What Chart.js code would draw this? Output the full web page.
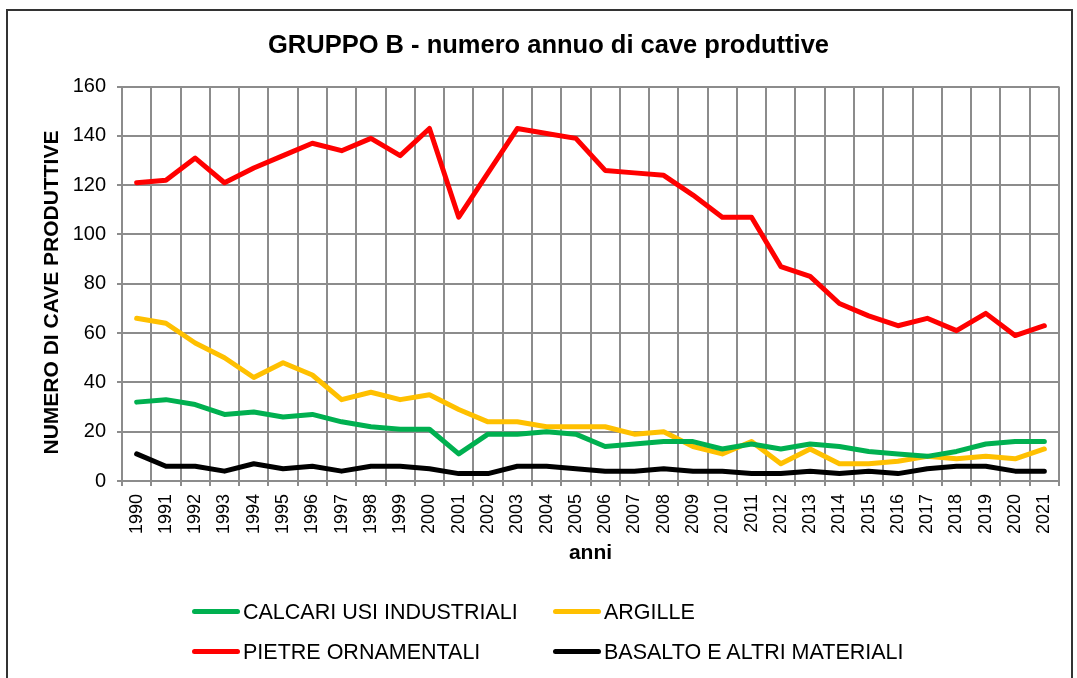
<!DOCTYPE html>
<html>
<head>
<meta charset="utf-8">
<script src="https://cdn.jsdelivr.net/npm/chart.js@4/dist/chart.umd.min.js"></script>
<style>
  html, body { margin: 0; padding: 0; background: #fff; }
  body { width: 1077px; height: 678px; position: relative; overflow: hidden; font-family: "Liberation Sans", Arial, sans-serif; }
  #frame { position: absolute; left: 6px; top: 9px; width: 1063px; height: 700px; border: 2px solid #333; border-bottom: none; }
  #wrap { position: absolute; left: 0; top: 0; width: 1077px; height: 678px; }
  .legend { position: absolute; font-size: 21.5px; color: #000; white-space: nowrap; }
  .legend .sw { display: inline-block; width: 48px; height: 5px; border-radius: 3px; vertical-align: middle; margin-right: 3px; position: relative; top: -2px; }
</style>
</head>
<body>
<div id="frame"></div>
<div id="wrap"><canvas id="grafico" width="1077" height="678"></canvas></div>
<div id="legenda"></div>
<script>
// dati
const anni = ['1990','1991','1992','1993','1994','1995','1996','1997','1998','1999','2000','2001','2002','2003','2004','2005',
  '2006','2007','2008','2009','2010','2011','2012','2013','2014','2015','2016','2017','2018','2019','2020','2021'];

const calcari = [32,33,31,27,28,26,27,24,22,21,21,11,19,19,20,19,14,15,16,16,13,15,13,15,14,12,11,10,12,15,16,16];
const argille = [66,64,56,50,42,48,43,33,36,33,35,29,24,24,22,22,22,19,20,14,11,16,7,13,7,7,8,10,9,10,9,13];
const pietre = [121,122,131,121,127,132,137,134,139,132,143,107,125,143,141,139,126,125,124,116,107,107,87,83,72,67,63,66,61,68,59,63];
const basalto = [11,6,6,4,7,5,6,4,6,6,5,3,3,6,6,5,4,4,5,4,4,3,3,4,3,4,3,5,6,6,4,4];

const serie = [
  { label: 'CALCARI USI INDUSTRIALI', data: calcari, color: '#00b050' },
  { label: 'ARGILLE', data: argille, color: '#ffc000' },
  { label: 'PIETRE ORNAMENTALI', data: pietre, color: '#ff0000' },
  { label: 'BASALTO E ALTRI MATERIALI', data: basalto, color: '#000000' }
];

const FONT = '"Liberation Sans", Arial, sans-serif';
const GRIGIO = '#8c8c8c';

// legenda html su due righe
(function () {
  const pos = [[192, 613], [553, 613], [192, 653], [553, 653]];
  const cont = document.getElementById('legenda');
  serie.forEach((s, i) => {
    const d = document.createElement('div');
    d.className = 'legend';
    d.style.left = pos[i][0] + 'px';
    d.style.top = (pos[i][1] - 13) + 'px';
    d.innerHTML = `<span class="sw" style="background:${s.color}"></span>${s.label}`;
    cont.appendChild(d);
  });
})();

new Chart(document.getElementById('grafico').getContext('2d'), {
  type: 'line',
  data: {
    labels: anni,
    datasets: serie.map(s => ({
      label: s.label,
      data: s.data,
      borderColor: s.color,
      backgroundColor: s.color,
      borderWidth: 5,
      pointRadius: 0,
      tension: 0,
      borderCapStyle: 'round',
      borderJoinStyle: 'round',
      fill: false
    }))
  },
  options: {
    responsive: false,
    animation: false,
    layout: { padding: { left: 38, right: 18, top: 0, bottom: 88 } },
    plugins: {
      legend: { display: false },
      tooltip: { enabled: false },
      title: {
        display: true,
        text: 'GRUPPO B - numero annuo di cave produttive',
        color: '#000',
        font: { family: FONT, size: 25.5, weight: 'bold' },
        padding: { top: 31, bottom: 25 }
      }
    },
    scales: {
      x: {
        offset: true,
        afterFit: s => { s.height = 109; },
        grid: { offset: true, color: GRIGIO, lineWidth: 2, tickLength: 5 },
        border: { color: GRIGIO, width: 2 },
        ticks: {
          color: '#000', font: { family: FONT, size: 18 },
          maxRotation: 90, minRotation: 90, padding: 8, autoSkip: false
        },
        title: {
          display: true, text: 'anni', color: '#000',
          font: { family: FONT, size: 21, weight: 'bold' },
          padding: { top: 4, bottom: 24 }
        }
      },
      y: {
        min: 0, max: 160,
        afterFit: s => { s.width = 84; },
        grid: { color: GRIGIO, lineWidth: 2, tickLength: 5 },
        border: { color: GRIGIO, width: 2 },
        ticks: { stepSize: 20, color: '#000', font: { family: FONT, size: 20 }, padding: 11 },
        title: {
          display: true, text: 'NUMERO DI CAVE PRODUTTIVE   ', color: '#000',
          font: { family: FONT, size: 21, weight: 'bold' },
          padding: { top: 2, bottom: 4 }
        }
      }
    }
  }
});
</script>
</body>
</html>
